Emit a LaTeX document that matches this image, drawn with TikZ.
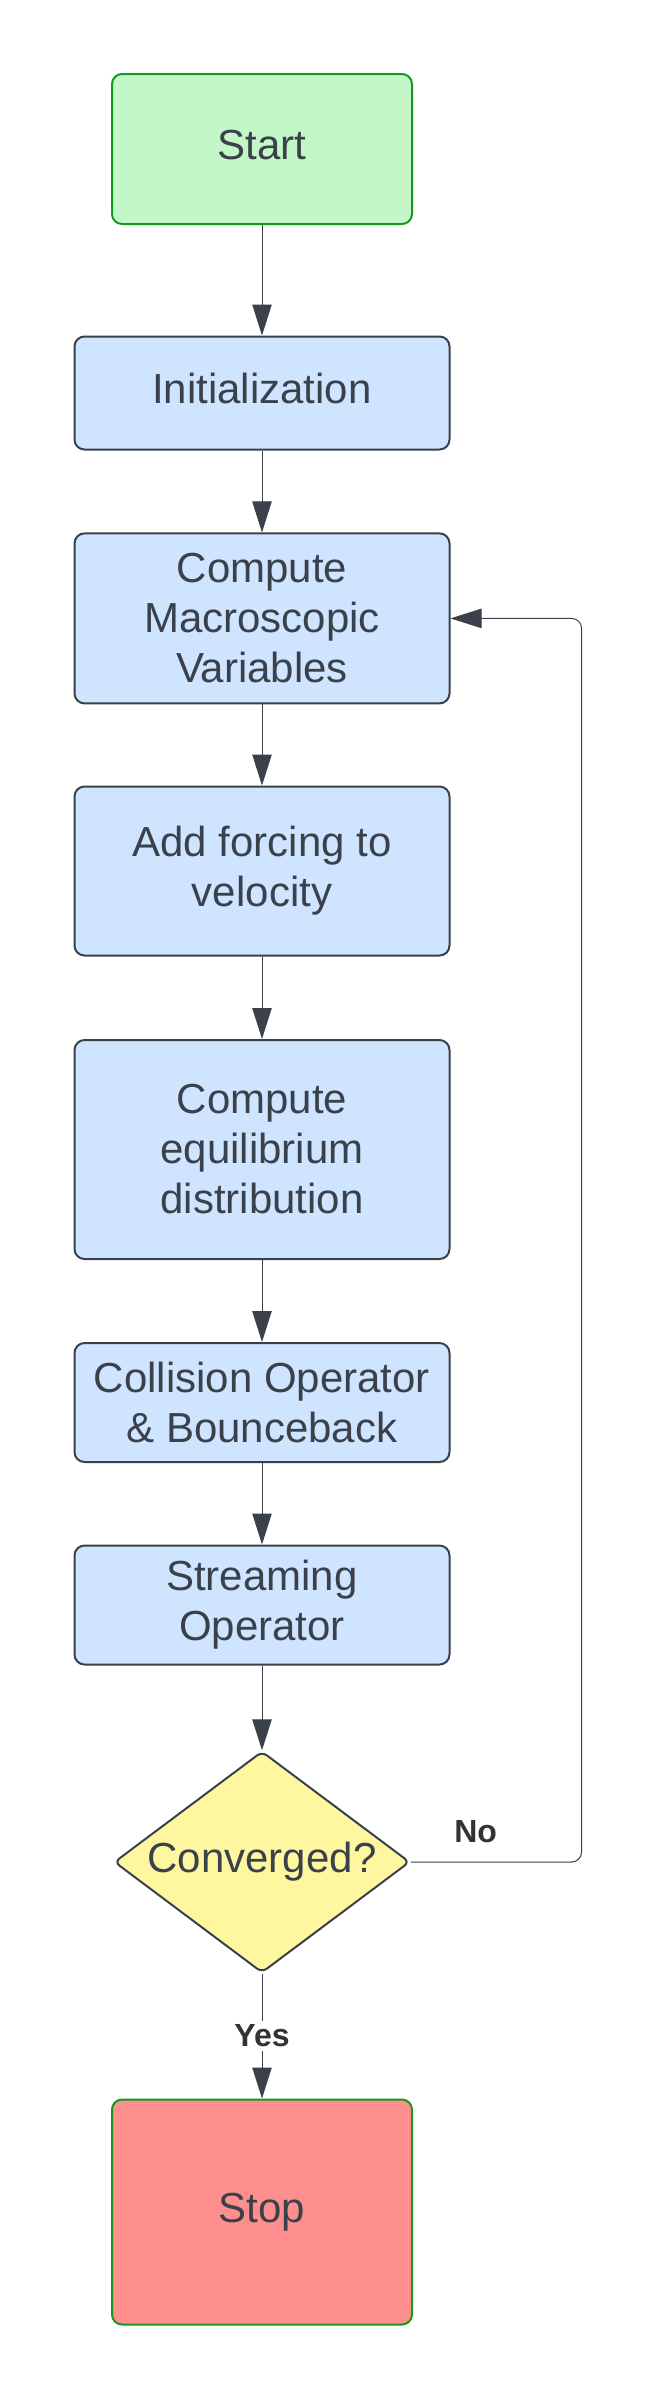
\documentclass[tikz,border=0pt]{standalone}
\usepackage{fontspec}
\setmainfont{Liberation Sans}
\usepackage{xcolor}
\usepackage{tikz}
\usetikzlibrary{arrows.meta}
\usetikzlibrary{shapes.geometric}

\definecolor{ink}{HTML}{3A414A}
\definecolor{darklabel}{HTML}{333333}
\definecolor{startgreen}{HTML}{C3F7C8}
\definecolor{edgegreen}{HTML}{139A1C}
\definecolor{stepblue}{HTML}{CFE4FF}
\definecolor{askyellow}{HTML}{FFF6A0}
\definecolor{stopred}{HTML}{FF8F8F}

\begin{document}
\begin{tikzpicture}[x=0.5pt,y=-0.5pt,
        stepbox/.style={rectangle,rounded corners=5pt,draw=ink,fill=stepblue,minimum width=187.5pt},
        endbox/.style={rectangle,rounded corners=5pt,draw=edgegreen,minimum width=150pt},
        askbox/.style={diamond,aspect=1.335,rounded corners=3pt,draw=ink,fill=askyellow,minimum width=145.5pt,minimum height=109pt,inner sep=0pt},
        oneline/.style={execute at begin node=\strut,execute at end node=\strut},
        answer/.style={font=\fontsize{16}{19}\selectfont\bfseries,text=darklabel,inner sep=2pt}]
        \useasboundingbox (0,0) rectangle (656,2400);
        \begin{scope}[every node/.style={line width=1pt,align=center,text=ink,font=\fontsize{21}{25}\selectfont}]
        \node[endbox,oneline,fill=startgreen,minimum height=75pt] (start) at (262,149) {Start};
        \node[stepbox,oneline,minimum height=56.5pt] (init) at (262,393) {Initialization};
        \node[stepbox,minimum height=85pt] (macro) at (262,618.4) {Compute\\Macroscopic\\Variables};
        \node[stepbox,minimum height=84.5pt] (force) at (262,871) {Add forcing to\\velocity};
        \node[stepbox,minimum height=109.5pt] (equil) at (262,1149.5) {Compute\\equilibrium\\distribution};
        \node[stepbox,minimum height=59.5pt] (collide) at (262,1402.5) {Collision Operator\\\& Bounceback};
        \node[stepbox,minimum height=59.5pt] (stream) at (262,1605) {Streaming\\Operator};
        \node[askbox,oneline] (conv) at (262,1862) {Converged?};
        \node[endbox,oneline,fill=stopred,minimum height=112.5pt] (stop) at (262,2212) {Stop};
        \end{scope}
        \coordinate (back) at (581.6,618.4);
        \begin{scope}[every edge/.style={draw=ink,line width=0.5pt,-{Triangle[length=15.5pt,width=9.7pt]}}]
        \path (start) edge (init);
        \path (init) edge (macro);
        \path (macro) edge (force);
        \path (force) edge (equil);
        \path (equil) edge (collide);
        \path (collide) edge (stream);
        \path (stream) edge (conv);
        \path (conv) edge node[answer,fill=white] {Yes} (stop);
        \end{scope}
        \draw[ink,line width=0.5pt,rounded corners=5pt,-{Triangle[length=15.5pt,width=9.7pt]}]
            (conv.east) -| node[answer,pos=0.19,above=7.5pt] {No} (back) -- (macro.east);
\end{tikzpicture}
\end{document}
